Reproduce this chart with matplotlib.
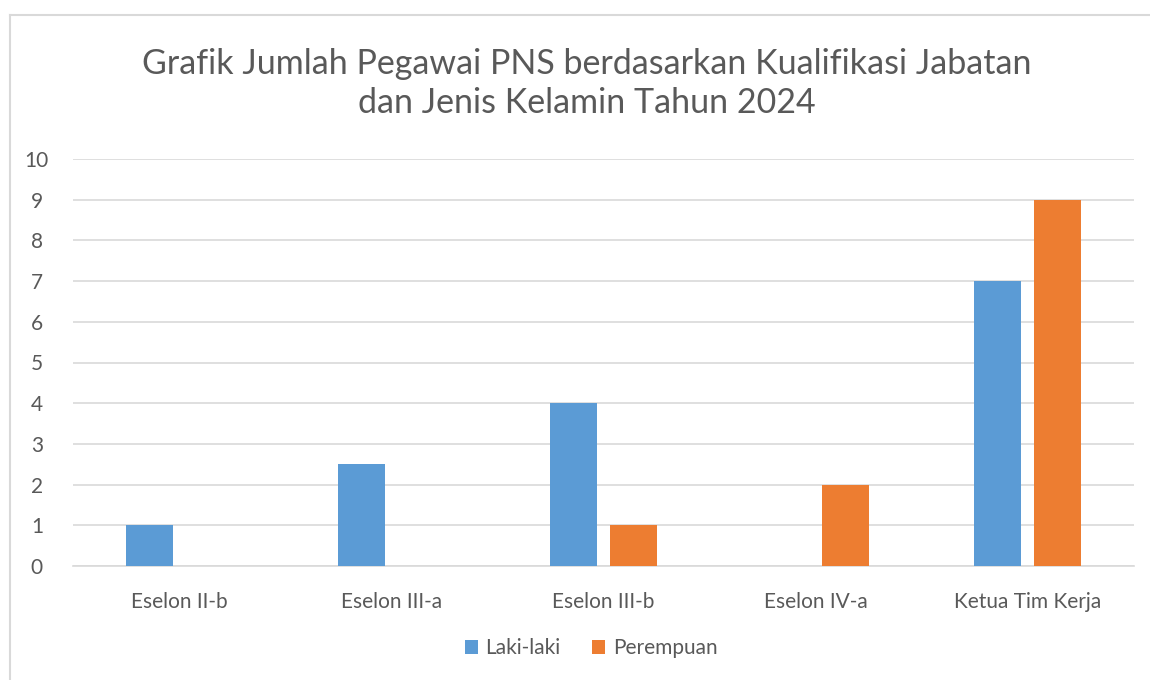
import matplotlib
matplotlib.use("Agg")
import matplotlib.pyplot as plt
import numpy as np
from matplotlib.lines import Line2D
from matplotlib.patches import Patch

categories = ["Eselon II-b", "Eselon III-a", "Eselon III-b", "Eselon IV-a", "Ketua Tim Kerja"]
laki = [1, 2.5, 4, 0, 7]
perempuan = [0, 0, 1, 2, 9]
series_names = ["Laki-laki", "Perempuan"]
yticks = list(range(0, 11))
title = "Grafik Jumlah Pegawai PNS berdasarkan Kualifikasi Jabatan\ndan Jenis Kelamin Tahun 2024"

plt.rcParams['font.family'] = ['Lato', 'DejaVu Sans']
gray = '#595959'
grid = '#d9d9d9'
blue = '#5B9BD5'
orange = '#ED7D31'

fig = plt.figure(figsize=(11.5, 6.8), dpi=100)
ax = fig.add_axes([73/1150, 1-566/680, (1134-73)/1150, (566-159)/680])

x = np.arange(len(categories))
w = 0.222
off = 0.283
ax.bar(x - off/2, laki, width=w, color=blue, zorder=3)
ax.bar(x + off/2, perempuan, width=w, color=orange, zorder=3)

ax.set_xlim(-0.5, len(categories) - 0.5)
ax.set_ylim(0, 10)
ax.set_yticks(yticks)
ax.set_yticklabels([str(t) for t in yticks])
ax.set_xticks(x)
ax.set_xticklabels(categories)
ax.yaxis.grid(True, color=grid, linewidth=1.2, zorder=0)
for s in ['top', 'right', 'left']:
    ax.spines[s].set_visible(False)
ax.spines['bottom'].set_color(grid)
ax.spines['bottom'].set_linewidth(1.2)
ax.tick_params(axis='both', length=0, colors=gray, labelsize=15)
ax.tick_params(axis='x', pad=19)
ax.tick_params(axis='y', pad=26)
for lbl in ax.get_yticklabels():
    lbl.set_horizontalalignment('center')

fig.text(587/1150, 1-83.5/680, title, ha='center', va='center', fontsize=24.5,
         color=gray, linespacing=1.28)

handles = [Patch(facecolor=blue, label=series_names[0]), Patch(facecolor=orange, label=series_names[1])]
leg = fig.legend(handles=handles, loc='center', bbox_to_anchor=(591/1150, 1-648/680), ncol=2,
                 frameon=False, fontsize=15, handlelength=0.65, handleheight=0.65,
                 handletextpad=0.35, columnspacing=1.5)
for t in leg.get_texts():
    t.set_color(gray)

fig.add_artist(Line2D([10/1150, 10/1150], [0, 1-15/680], transform=fig.transFigure, color=grid, linewidth=1.5))
fig.add_artist(Line2D([10/1150, 1], [1-15/680, 1-15/680], transform=fig.transFigure, color=grid, linewidth=1.5))

fig.savefig("out.png", dpi=100)
